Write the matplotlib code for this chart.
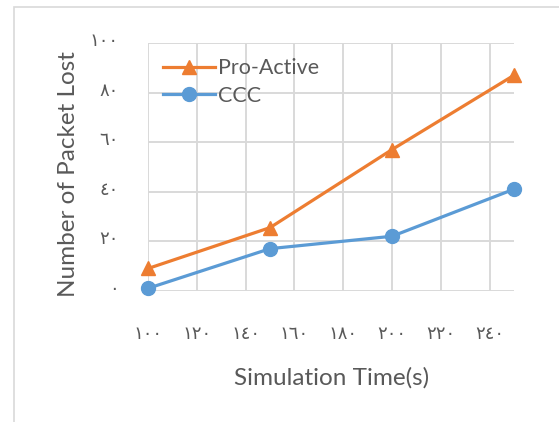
import numpy as np
import matplotlib
matplotlib.use("Agg")
import matplotlib.pyplot as plt
import matplotlib.transforms as mtransforms
from matplotlib.patches import Rectangle

# simulation times (s) and packets lost per scheme
sim_time = [100, 150, 200, 250]
pro_active = [9, 25.5, 57, 87]
ccc = [1, 17, 22, 41]

x_ticks = [100, 120, 140, 160, 180, 200, 220, 240]
y_ticks = [0, 20, 40, 60, 80, 100]

ORANGE = "#ED7D31"
BLUE = "#5B9BD5"
GRID = "#D9D9D9"
TEXT = "#595959"

# eastern arabic digits for the tick labels
to_arabic = str.maketrans("0123456789", "٠١٢٣٤٥٦٧٨٩")

plt.rcParams['font.family'] = ['Lato', 'DejaVu Sans']

fig = plt.figure(figsize=(5.59, 4.22), dpi=100)
ax = fig.add_axes([0.265, 0.311, 0.6545, 0.587])

# chart area frame
fig.patches.append(Rectangle((14 / 559, -0.1), 1.2, 1 - 7 / 422 + 0.1,
                             transform=fig.transFigure, fill=False,
                             edgecolor=GRID, linewidth=1.2, zorder=0))

ax.plot(sim_time, pro_active, color=ORANGE, linewidth=2.3, marker="^",
        markersize=10.5, label="Pro-Active", clip_on=False, zorder=4)
ax.plot(sim_time, ccc, color=BLUE, linewidth=2.3, marker="o",
        markersize=10, label="CCC", clip_on=False, zorder=4)

ax.set_xlim(100, 250)
ax.set_ylim(0, 100)
ax.set_xticks(x_ticks)
ax.set_yticks(y_ticks)
ax.set_xticklabels([str(t).translate(to_arabic) for t in x_ticks],
                   family=['DejaVu Sans'], fontsize=13, color=TEXT)
ax.set_yticklabels([str(t).translate(to_arabic) for t in y_ticks],
                   family=['DejaVu Sans'], fontsize=13, color=TEXT)
ax.tick_params(axis="both", length=0)
ax.tick_params(axis="x", pad=25)
ax.tick_params(axis="y", pad=21.5)

# nudge y tick labels up a little
shift = mtransforms.ScaledTranslation(0, 4 / 100, fig.dpi_scale_trans)
for lbl in ax.get_yticklabels():
    lbl.set_transform(lbl.get_transform() + shift)

for s in ax.spines.values():
    s.set_visible(False)
ax.grid(True, color=GRID, linewidth=1.4)
ax.set_axisbelow(True)

ax.set_xlabel("Simulation Time(s)", fontsize=17.5, color=TEXT, labelpad=17)
ax.set_ylabel("Number of Packet Lost", fontsize=17.5, color=TEXT, labelpad=7.5)
ax.yaxis.label.set_y(0.473)

leg = ax.legend(loc="upper left", frameon=False, fontsize=15.5,
                handlelength=2.4, handletextpad=0.15, labelspacing=0.35,
                borderaxespad=0.3, labelcolor=TEXT)

fig.savefig("out.png", dpi=100)
